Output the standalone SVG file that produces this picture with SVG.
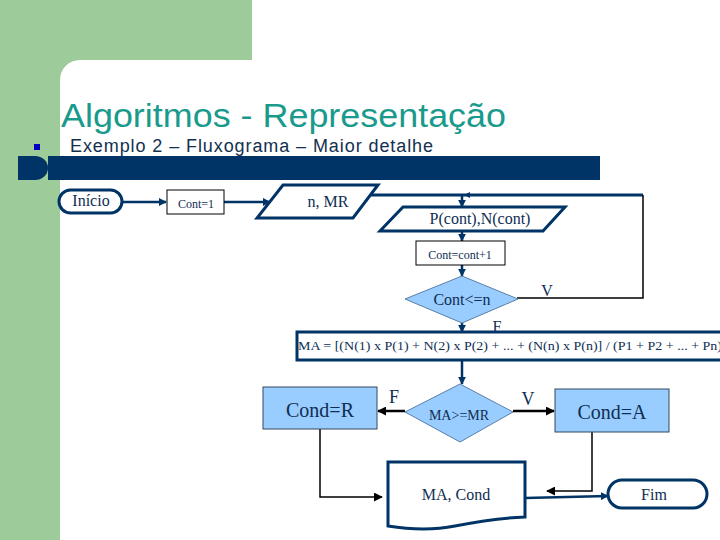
<svg xmlns="http://www.w3.org/2000/svg" width="720" height="540" viewBox="0 0 720 540">
<style>
.serif{font-family:"Liberation Serif","Times New Roman",serif;fill:#0F2E52}
.navy{fill:none;stroke:#003366;stroke-width:3}
.thin{fill:#fff;stroke:#000;stroke-width:1}
.blue{fill:#99CCFF;stroke:#34495E;stroke-width:1}
.dia{fill:#99CCFF;stroke:#5A7FA8;stroke-width:1}
.cn{fill:none;stroke:#003366;stroke-width:2.5}
.cb{fill:none;stroke:#000;stroke-width:1.5}
.cb2{fill:none;stroke:#000;stroke-width:2.5}
</style>
<defs>
<marker id="an" viewBox="0 0 10 10" refX="9" refY="5" markerWidth="3.2" markerHeight="3.2" orient="auto"><path d="M0,0 L10,5 L0,10 Z" fill="#003366"/></marker>
<marker id="ab" viewBox="0 0 10 10" refX="9" refY="5" markerWidth="3.6" markerHeight="3.6" orient="auto"><path d="M0,0 L10,5 L0,10 Z" fill="#000"/></marker>
<marker id="ab1" viewBox="0 0 10 10" refX="9" refY="5" markerWidth="6" markerHeight="6" orient="auto"><path d="M0,0 L10,5 L0,10 Z" fill="#000"/></marker>
</defs>
<rect width="720" height="540" fill="#fff"/>
<g id="background">
<path d="M0,0 H252 V60 H80 A20,20 0 0 0 60,80 V540 H0 Z" fill="#9ECB9A"/>
<rect x="34" y="144" width="6" height="6" fill="#0000C0"/>
<path d="M18,156 H35 A13,12 0 0 1 35,180 H18 Z" fill="#003366"/>
<rect x="48" y="156" width="552" height="24" fill="#003366"/>
<text x="61" y="127" font-family="'Liberation Sans',Arial,sans-serif" font-size="34" fill="#1A9A8C" textLength="445" lengthAdjust="spacingAndGlyphs">Algoritmos - Representação</text>
<text x="70" y="152" font-family="'Liberation Sans',Arial,sans-serif" font-size="18" fill="#13304F" textLength="363">Exemplo 2 – Fluxograma – Maior detalhe</text>
</g>
<g id="connectors">
<line class="cn" x1="122" y1="202" x2="166" y2="202" marker-end="url(#an)"/>
<line class="cn" x1="224" y1="202" x2="270" y2="202" marker-end="url(#an)"/>
<polyline fill="none" stroke="#003366" stroke-width="3" points="370,195 643,195"/>
<polyline class="cb" points="643,195 643,298 517,298"/>
<path d="M464,195 L470,192 L470,198 Z" fill="#003366"/>
<line class="cn" x1="462" y1="195" x2="462" y2="207" marker-end="url(#an)"/>
<line class="cn" x1="462" y1="231" x2="462" y2="241" marker-end="url(#an)"/>
<line class="cn" x1="462" y1="265" x2="462" y2="276" marker-end="url(#an)"/>
<line class="cn" x1="462" y1="323" x2="462" y2="332" marker-end="url(#an)"/>
<line class="cn" x1="462" y1="360" x2="462" y2="384" marker-end="url(#an)"/>
<line class="cb2" x1="405" y1="411" x2="378" y2="411" marker-end="url(#ab)"/>
<line class="cb2" x1="513" y1="411" x2="554" y2="411" marker-end="url(#ab)"/>
<polyline class="cb" points="320,429 320,497 382,497" marker-end="url(#ab1)"/>
<polyline class="cb" points="592,432 592,491 547,491" marker-end="url(#ab1)"/>
<line class="cn" x1="525" y1="498" x2="608" y2="496" marker-end="url(#an)"/>
<text class="serif" x="547" y="296" font-size="16" text-anchor="middle">V</text>
<text class="serif" x="497" y="332" font-size="16" text-anchor="middle">F</text>
<text class="serif" x="394" y="403" font-size="18" text-anchor="middle">F</text>
<text class="serif" x="528" y="405" font-size="18" text-anchor="middle">V</text>
</g>
<g id="inicio">
<rect class="navy" x="59" y="190" width="63" height="23" rx="11.5"/>
<text class="serif" x="91" y="206" font-size="16" text-anchor="middle">Início</text>
</g>
<g id="cont1">
<rect class="thin" x="167" y="190" width="57" height="24"/>
<text class="serif" x="196" y="208" font-size="12" text-anchor="middle">Cont=1</text>
</g>
<g id="entrada-n-mr">
<polygon class="navy" points="283,185 378,185 353,218 257,218"/>
<text class="serif" x="328" y="207" font-size="16" text-anchor="middle">n, MR</text>
</g>
<g id="entrada-p-n">
<polygon class="navy" points="403,207 565,207 543,231 380,231"/>
<text class="serif" x="480" y="224" font-size="16" text-anchor="middle">P(cont),N(cont)</text>
</g>
<g id="incremento">
<rect class="thin" x="416" y="241" width="89" height="24"/>
<text class="serif" x="460" y="259" font-size="12" text-anchor="middle">Cont=cont+1</text>
</g>
<g id="decisao-cont">
<polygon class="dia" points="462,276 518,299 462,323 405,299"/>
<text class="serif" x="462" y="305" font-size="16" text-anchor="middle">Cont&lt;=n</text>
</g>
<g id="media">
<rect class="navy" x="297" y="332" width="432" height="28" fill="#fff"/>
<text class="serif" x="298" y="350" font-size="12" textLength="424" lengthAdjust="spacingAndGlyphs">MA = [(N(1) x P(1) + N(2) x P(2) + ... + (N(n) x P(n)] / (P1 + P2 + ... + Pn)</text>
</g>
<g id="decisao-ma">
<polygon class="dia" points="460,384 513,412 460,442 405,412"/>
<text class="serif" x="459" y="420" font-size="14" text-anchor="middle">MA&gt;=MR</text>
</g>
<g id="cond-r">
<rect class="blue" x="263" y="387" width="114" height="42"/>
<text class="serif" x="320" y="417" font-size="20" text-anchor="middle">Cond=R</text>
</g>
<g id="cond-a">
<rect class="blue" x="555" y="389" width="114" height="43"/>
<text class="serif" x="612" y="419" font-size="20" text-anchor="middle">Cond=A</text>
</g>
<g id="saida">
<path class="navy" d="M388,462 H525 V517 Q495,518 455,526 Q425,532 388,526 Z"/>
<text class="serif" x="456" y="500" font-size="16" text-anchor="middle">MA, Cond</text>
</g>
<g id="fim">
<rect class="navy" x="608" y="480" width="99" height="28" rx="14"/>
<text class="serif" x="654" y="500" font-size="16" text-anchor="middle">Fim</text>
</g>
</svg>
